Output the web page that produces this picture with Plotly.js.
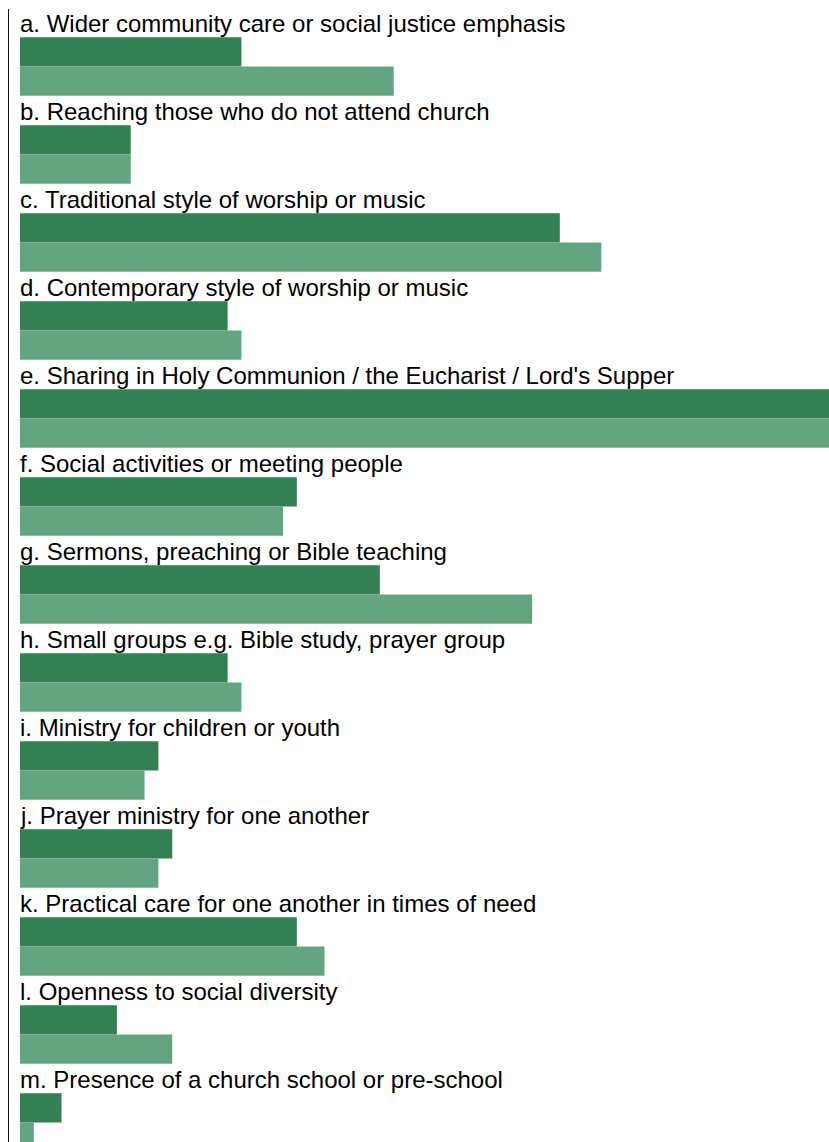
<!DOCTYPE html>
<html>
<head>
<meta charset="utf-8">
<script src="https://cdn.plot.ly/plotly-3.0.1.min.js"></script>
<style>
  html, body { margin: 0; padding: 0; background: #fff; }
  #chart { width: 829px; height: 1142px; }
</style>
</head>
<body>
<div id="chart"></div>
<script>
const categories = [
  "a. Wider community care or social justice emphasis",
  "b. Reaching those who do not attend church",
  "c. Traditional style of worship or music",
  "d. Contemporary style of worship or music",
  "e. Sharing in Holy Communion / the Eucharist / Lord's Supper",
  "f. Social activities or meeting people",
  "g. Sermons, preaching or Bible teaching",
  "h. Small groups e.g. Bible study, prayer group",
  "i. Ministry for children or youth",
  "j. Prayer ministry for one another",
  "k. Practical care for one another in times of need",
  "l. Openness to social diversity",
  "m. Presence of a church school or pre-school"
];
const series1Values = [16, 8, 39, 15, 59, 20, 26, 15, 10, 11, 20, 7, 3];
const series2Values = [27, 8, 42, 16, 59, 19, 37, 16, 9, 10, 22, 11, 1];
const seriesNames = ["Series 1", "Series 2"];

const data = [
  { type: "bar", orientation: "h", name: seriesNames[0], y: categories, x: series1Values,
    marker: { color: "#338053" }, hoverinfo: "x+y" },
  { type: "bar", orientation: "h", name: seriesNames[1], y: categories, x: series2Values,
    marker: { color: "#63a580" }, hoverinfo: "x+y" }
];

const annotations = categories.map(c => ({
  text: c, x: 0, y: c, xref: "x", yref: "y",
  xanchor: "left", yanchor: "middle", xshift: -2, yshift: 43, showarrow: false,
  font: { family: "Liberation Sans, Arial, sans-serif", size: 24, color: "#000" }
}));

const layout = {
  width: 829, height: 1142,
  margin: { l: 9, r: 0, t: 9, b: 0, pad: 0 },
  paper_bgcolor: "#fff", plot_bgcolor: "#fff",
  barmode: "group", bargap: 1/3, bargroupgap: 0,
  showlegend: false,
  xaxis: { range: [-0.795, 58.45], visible: false, showgrid: false, zeroline: false, fixedrange: true },
  yaxis: { type: "category", range: [12.222, -0.6534], showgrid: false, zeroline: false,
           showticklabels: false, ticks: "", showline: true, linecolor: "#111", linewidth: 1.5, fixedrange: true },
  annotations: annotations,
  font: { family: "Liberation Sans, Arial, sans-serif" }
};

Plotly.newPlot("chart", data, layout, { displayModeBar: false, staticPlot: true });
</script>
</body>
</html>
